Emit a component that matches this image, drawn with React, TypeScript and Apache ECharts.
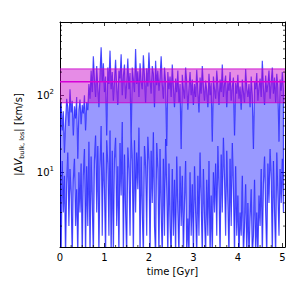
import React, { useEffect, useRef } from "react";
import * as echarts from "echarts";

const timeStep = 0.025;
const upperValues = [
  55, 80, 35, 62, 18, 45, 90, 70, 40, 120,
  60, 85, 30, 72, 50, 95, 15, 66, 88, 42,
  75, 58, 100, 35, 82, 64, 140, 90, 210, 110,
  320, 160, 95, 240, 130, 70, 190, 420, 150, 260,
  110, 175, 30, 230, 140, 380, 120, 200, 85, 155,
  290, 130, 75, 210, 165, 340, 100, 180, 250, 90,
  145, 300, 120, 195, 25, 230, 160, 110, 400, 140,
  205, 95, 260, 150, 120, 330, 175, 80, 225, 130,
  360, 160, 105, 240, 190, 70, 280, 135, 210, 115,
  170, 320, 140, 90, 230, 150, 22, 200, 120, 175,
  95, 250, 130, 70, 165, 110, 210, 80, 140, 20,
  185, 120, 90, 230, 150, 65, 125, 200, 100, 160,
  75, 140, 95, 215, 120, 60, 170, 105, 240, 130,
  85, 155, 115, 70, 190, 100, 145, 25, 175, 120,
  90, 210, 135, 75, 160, 110, 250, 95, 140, 180,
  70, 150, 115, 200, 85, 130, 170, 30, 145, 105,
  185, 90, 130, 65, 160, 110, 80, 220, 125, 95,
  140, 70, 175, 100, 20, 150, 120, 195, 85, 130,
  165, 95, 280, 125, 75, 180, 110, 140, 210, 90,
  150, 230, 105, 170, 80, 190, 125, 25, 160, 115,
  200, 120,
];
const lowerValues = [
  6, 0.8, 14, 3, 9, 0.8, 7, 18, 2, 11,
  5, 0.8, 8, 15, 2, 6, 0.8, 10, 3, 13,
  0.8, 9, 20, 0.8, 12, 2, 25, 0.8, 16, 4,
  0.8, 14, 30, 3, 22, 0.8, 11, 40, 1.5, 18,
  6, 0.8, 26, 13, 1.5, 35, 0.8, 19, 0.8, 15,
  28, 2, 12, 0.8, 24, 5, 45, 0.8, 17, 3,
  0.8, 21, 11, 1.5, 30, 14, 0.8, 26, 3, 18,
  6, 38, 0.8, 16, 3, 0.8, 22, 12, 1.5, 29,
  14, 0.8, 19, 4, 33, 2, 0.8, 24, 11, 0.8,
  20, 3, 0.8, 15, 1.5, 27, 6, 0.8, 13, 2,
  0.8, 11, 1.5, 8, 0.8, 16, 3, 0.8, 12, 2,
  9, 0.8, 4, 14, 0.8, 2.5, 0.8, 10, 1.5, 7,
  0.8, 12, 3, 0.8, 9, 1.5, 18, 4, 0.8, 11,
  2.5, 0.8, 8, 1.5, 14, 0.8, 5, 0.8, 10, 3,
  13, 1.5, 22, 6, 0.8, 17, 3, 28, 8, 1.5,
  19, 4, 0.8, 15, 2, 24, 6, 0.8, 12, 1.5,
  5, 0.8, 3, 1.5, 9, 0.8, 2, 7, 0.8, 4,
  0.8, 2.5, 6, 0.8, 1.5, 8, 0.8, 3, 0.8, 5,
  2, 11, 0.8, 7, 16, 3, 0.8, 13, 4, 20,
  8, 0.8, 14, 3, 0.8, 18, 5, 1.5, 11, 4,
  15, 3,
];
const bandLow = 80;
const bandMid = 150;
const bandHigh = 220;
const xMin = 0;
const xMax = 5.06;
const yMin = 1.07;
const yMax = 895;
const xMinorTicks = [0.25, 0.5, 0.75, 1.25, 1.5, 1.75, 2.25, 2.5, 2.75, 3.25, 3.5, 3.75, 4.25, 4.5, 4.75];
const yMinorTicks = [2, 3, 4, 5, 6, 7, 8, 9, 20, 30, 40, 50, 60, 70, 80, 90, 200, 300, 400, 500, 600, 700, 800];

const times = upperValues.map((_, i) => +(i * timeStep).toFixed(4));
const FONT = "DejaVu Sans";

export default function App() {
  const ref = useRef<HTMLDivElement>(null);
  useEffect(() => {
    if (!ref.current) return;
    const chart = echarts.init(ref.current, null, { renderer: "svg" });
    const axisCommon = {
      axisLine: { show: true, onZero: false, lineStyle: { color: "#000", width: 1 } },
      axisTick: { show: true, inside: true, length: 4, lineStyle: { color: "#000", width: 0.8 } },
      splitLine: { show: false },
    };
    const yLabelFmt = (v: number) => {
      const lg = Math.log10(v);
      const e = Math.round(lg);
      if (Math.abs(lg - e) > 1e-6) return "";
      return `{b|10}{s|${e}}`;
    };
    chart.setOption({
      animation: false,
      grid: { left: 60, right: 15, top: 22, bottom: 53, show: false },
      xAxis: [
        {
          type: "value", min: xMin, max: xMax, interval: 1, position: "bottom",
          ...axisCommon,
          axisLabel: {
            formatter: (v: number) => (Math.abs(v - Math.round(v)) < 1e-6 ? String(Math.round(v)) : ""),
            color: "#000", fontSize: 10, fontFamily: FONT, margin: 5,
          },
          name: "time [Gyr]", nameLocation: "middle", nameGap: 17,
          nameTextStyle: { color: "#000", fontSize: 10, fontFamily: FONT },
        },
        {
          type: "value", min: xMin, max: xMax, interval: 1, position: "top",
          ...axisCommon,
          axisLabel: { show: false },
        },
      ],
      yAxis: [
        {
          type: "log", logBase: 10, min: yMin, max: yMax, position: "left",
          ...axisCommon,
          axisLabel: {
            formatter: yLabelFmt, color: "#000", fontFamily: FONT, margin: 6,
            rich: {
              b: { fontSize: 10, fontFamily: FONT, color: "#000", lineHeight: 14 },
              s: { fontSize: 7, fontFamily: FONT, color: "#000", lineHeight: 7, verticalAlign: "top" },
            },
          },
          name: "{n||Δ}{i|V}{sub|bulk, los}{n|| [km/s]}",
          nameLocation: "middle", nameGap: 31,
          nameTextStyle: {
            color: "#000", fontSize: 10, fontFamily: FONT,
            rich: {
              n: { fontSize: 10, fontFamily: FONT, color: "#000", lineHeight: 14 },
              i: { fontSize: 10, fontFamily: FONT, color: "#000", fontStyle: "italic", lineHeight: 14 },
              sub: { fontSize: 6.5, fontFamily: FONT, color: "#000", lineHeight: 7, verticalAlign: "bottom" },
            },
          },
        },
        {
          type: "log", logBase: 10, min: yMin, max: yMax, position: "right",
          ...axisCommon,
          axisLabel: { show: false },
        },
      ],
      series: [
        {
          type: "custom", xAxisIndex: 0, yAxisIndex: 0, z: 2, silent: true, clip: true,
          data: [[times[0], upperValues[0]]],
          renderItem: (params: any, api: any) => {
            if (params.dataIndex !== 0) return null;
            const pts: number[][] = [];
            for (let i = 0; i < times.length; i++) pts.push(api.coord([times[i], upperValues[i]]));
            for (let i = times.length - 1; i >= 0; i--) pts.push(api.coord([times[i], lowerValues[i]]));
            const cs = params.coordSys;
            return {
              type: "polygon",
              shape: { points: pts },
              style: { fill: "rgba(0,0,255,0.4)", stroke: "rgba(0,0,255,0.68)", lineWidth: 1.2 },
              clipPath: { type: "rect", shape: { x: cs.x, y: cs.y, width: cs.width, height: cs.height } },
            };
          },
        },
        {
          type: "custom", xAxisIndex: 0, yAxisIndex: 0, z: 3, silent: true,
          data: [[xMin, bandMid]],
          renderItem: (params: any, api: any) => {
            const pHigh = api.coord([xMin, bandHigh]);
            const pLow = api.coord([xMax, bandLow]);
            const pMidL = api.coord([xMin, bandMid]);
            const pMidR = api.coord([xMax, bandMid]);
            return {
              type: "group",
              children: [
                { type: "rect", shape: { x: pHigh[0], y: pHigh[1], width: pLow[0] - pHigh[0], height: pLow[1] - pHigh[1] }, style: { fill: "rgba(200,0,200,0.45)" } },
                { type: "line", shape: { x1: pHigh[0], y1: pHigh[1], x2: pLow[0], y2: pHigh[1] }, style: { stroke: "rgba(205,0,205,0.85)", lineWidth: 1 } },
                { type: "line", shape: { x1: pHigh[0], y1: pLow[1], x2: pLow[0], y2: pLow[1] }, style: { stroke: "rgba(205,0,205,0.85)", lineWidth: 1 } },
                { type: "line", shape: { x1: pMidL[0], y1: pMidL[1], x2: pMidR[0], y2: pMidR[1] }, style: { stroke: "rgba(215,0,215,1)", lineWidth: 1.4 } },
              ],
            };
          },
        },
        {
          type: "custom", xAxisIndex: 0, yAxisIndex: 0, z: 5, silent: true,
          data: [[xMin, yMin]],
          renderItem: (params: any, api: any) => {
            const children: any[] = [];
            const st = { stroke: "#000", lineWidth: 0.7 };
            for (const v of yMinorTicks) {
              const a = api.coord([xMin, v]);
              const b = api.coord([xMax, v]);
              children.push({ type: "line", shape: { x1: a[0], y1: a[1], x2: a[0] + 2, y2: a[1] }, style: st });
              children.push({ type: "line", shape: { x1: b[0], y1: b[1], x2: b[0] - 2, y2: b[1] }, style: st });
            }
            for (const t of xMinorTicks) {
              const a = api.coord([t, yMin]);
              const b = api.coord([t, yMax]);
              children.push({ type: "line", shape: { x1: a[0], y1: a[1], x2: a[0], y2: a[1] - 2 }, style: st });
              children.push({ type: "line", shape: { x1: b[0], y1: b[1], x2: b[0], y2: b[1] + 2 }, style: st });
            }
            return { type: "group", children };
          },
        },
      ],
    });
    return () => chart.dispose();
  }, []);
  return <div ref={ref} style={{ position: "fixed", left: 0, top: 0, width: 300, height: 300, background: "#fff" }} />;
}
